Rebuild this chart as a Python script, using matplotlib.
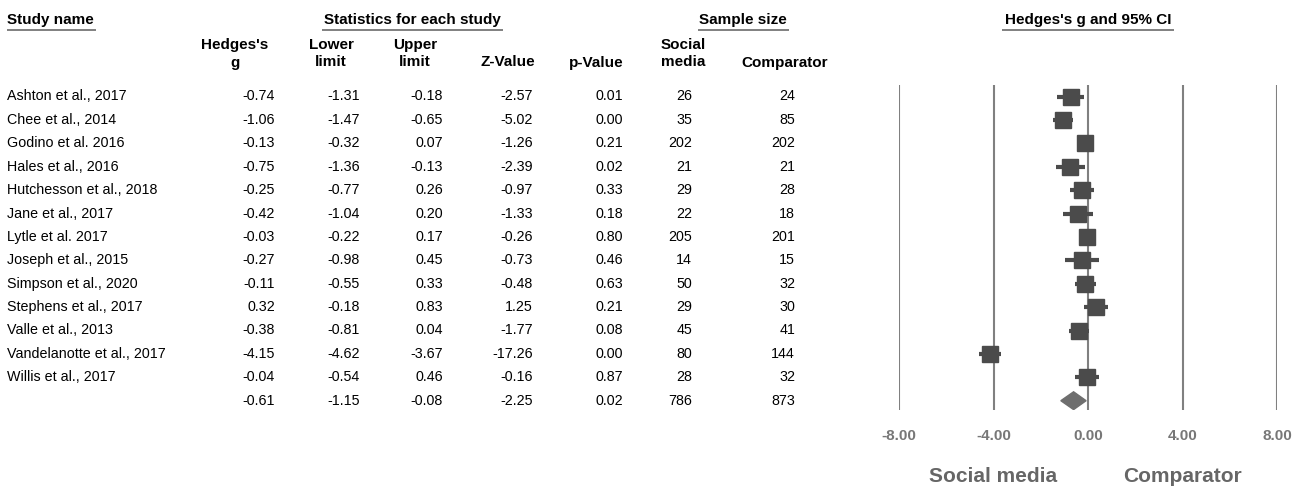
import matplotlib
matplotlib.use("Agg")
import matplotlib.pyplot as plt
from matplotlib.patches import Polygon

plt.rcParams['font.family'] = ['Liberation Sans', 'DejaVu Sans']

studies = ["Ashton et al., 2017", "Chee et al., 2014", "Godino et al. 2016", "Hales et al., 2016",
           "Hutchesson et al., 2018", "Jane et al., 2017", "Lytle et al. 2017", "Joseph et al., 2015",
           "Simpson et al., 2020", "Stephens et al., 2017", "Valle et al., 2013",
           "Vandelanotte et al., 2017", "Willis et al., 2017"]
g = [-0.74, -1.06, -0.13, -0.75, -0.25, -0.42, -0.03, -0.27, -0.11, 0.32, -0.38, -4.15, -0.04]
lower = [-1.31, -1.47, -0.32, -1.36, -0.77, -1.04, -0.22, -0.98, -0.55, -0.18, -0.81, -4.62, -0.54]
upper = [-0.18, -0.65, 0.07, -0.13, 0.26, 0.20, 0.17, 0.45, 0.33, 0.83, 0.04, -3.67, 0.46]
zval = [-2.57, -5.02, -1.26, -2.39, -0.97, -1.33, -0.26, -0.73, -0.48, 1.25, -1.77, -17.26, -0.16]
pval = [0.01, 0.00, 0.21, 0.02, 0.33, 0.18, 0.80, 0.46, 0.63, 0.21, 0.08, 0.00, 0.87]
n_social = [26, 35, 202, 21, 29, 22, 205, 14, 50, 29, 45, 80, 28]
n_comp = [24, 85, 202, 21, 28, 18, 201, 15, 32, 30, 41, 144, 32]
summary = {"g": -0.61, "lower": -1.15, "upper": -0.08, "z": -2.25, "p": 0.02, "ns": 786, "nc": 873}
xticks = [-8, -4, 0, 4, 8]

W, H = 1309, 488
fig = plt.figure(figsize=(W / 100, H / 100), dpi=100)

tab = fig.add_axes([0, 0, 1, 1])
tab.set_xlim(0, W)
tab.set_ylim(H, 0)
tab.axis('off')

y0, dy = 96.5, 23.4
fs = 10.3
hfs = 11
ulc = '#808080'

def header(x_center, x1, x2, text):
    tab.text(x_center, 20, text, ha='center', va='center', fontsize=hfs, fontweight='bold')
    tab.plot([x1, x2], [29.5, 29.5], color=ulc, lw=1.4, solid_capstyle='butt')

tab.text(7, 20, "Study name", ha='left', va='center', fontsize=hfs, fontweight='bold')
tab.plot([7, 96], [29.5, 29.5], color=ulc, lw=1.4, solid_capstyle='butt')
header(412, 322, 503, "Statistics for each study")
header(743, 698, 789, "Sample size")
header(1088, 1002, 1174, "Hedges's g and 95% CI")

col_right = [275, 360, 443, 533, 623, 692, 795]
col_heads = [("Hedges's", "g"), ("Lower", "limit"), ("Upper", "limit"), ("", "Z-Value"),
             ("", "p-Value"), ("Social", "media"), ("", "Comparator")]
col_centers = [235, 331, 415, 508, 596, 683, 785]
for (a, b), cx in zip(col_heads, col_centers):
    if a:
        tab.text(cx, 45, a, ha='center', va='center', fontsize=hfs, fontweight='bold')
    tab.text(cx, 62.5, b, ha='center', va='center', fontsize=hfs, fontweight='bold')

for i, name in enumerate(studies):
    y = y0 + i * dy
    tab.text(7, y, name, ha='left', va='center', fontsize=fs)
    vals = [f"{g[i]:.2f}", f"{lower[i]:.2f}", f"{upper[i]:.2f}", f"{zval[i]:.2f}",
            f"{pval[i]:.2f}", str(n_social[i]), str(n_comp[i])]
    for v, xr in zip(vals, col_right):
        tab.text(xr, y, v, ha='right', va='center', fontsize=fs)

ys = y0 + len(studies) * dy
svals = [f"{summary['g']:.2f}", f"{summary['lower']:.2f}", f"{summary['upper']:.2f}",
         f"{summary['z']:.2f}", f"{summary['p']:.2f}", str(summary['ns']), str(summary['nc'])]
for v, xr in zip(svals, col_right):
    tab.text(xr, ys, v, ha='right', va='center', fontsize=fs)

# forest axes
px_left, px_right = 899, 1277
px_top, px_bot = 85, 410
ax = fig.add_axes([px_left / W, 1 - px_bot / H, (px_right - px_left) / W, (px_bot - px_top) / H])
ax.set_xlim(-8, 8)
ax.set_ylim((px_bot - y0) / dy, (px_top - y0) / dy)
for s in ax.spines.values():
    s.set_visible(False)
ax.set_yticks([])
ax.set_facecolor('none')
for t in xticks:
    ax.axvline(t, color='#808080', lw=1.5, zorder=1)
ax.set_xticks(xticks)
ax.set_xticklabels([f"{t:.2f}" for t in xticks], fontsize=11, fontweight='bold', color='#777777')
ax.tick_params(axis='x', length=0, pad=14)

sq = '#4b4b4b'
for i in range(len(studies)):
    ax.plot([lower[i], upper[i]], [i, i], color=sq, lw=3, solid_capstyle='butt', zorder=2)
    ax.plot([g[i]], [i], marker='s', ms=12, color=sq, mec=sq, zorder=3)

si = len(studies)
dh = 0.38
diamond = Polygon([(summary['lower'], si), (summary['g'], si - dh), (summary['upper'], si),
                   (summary['g'], si + dh)], closed=True, facecolor='#6e6e6e', edgecolor='#6e6e6e', zorder=3)
ax.add_patch(diamond)

tab.text(993, 477, "Social media", ha='center', va='center', fontsize=15, fontweight='bold', color='#666666')
tab.text(1183, 477, "Comparator", ha='center', va='center', fontsize=15, fontweight='bold', color='#666666')

fig.savefig("out.png", dpi=100)
